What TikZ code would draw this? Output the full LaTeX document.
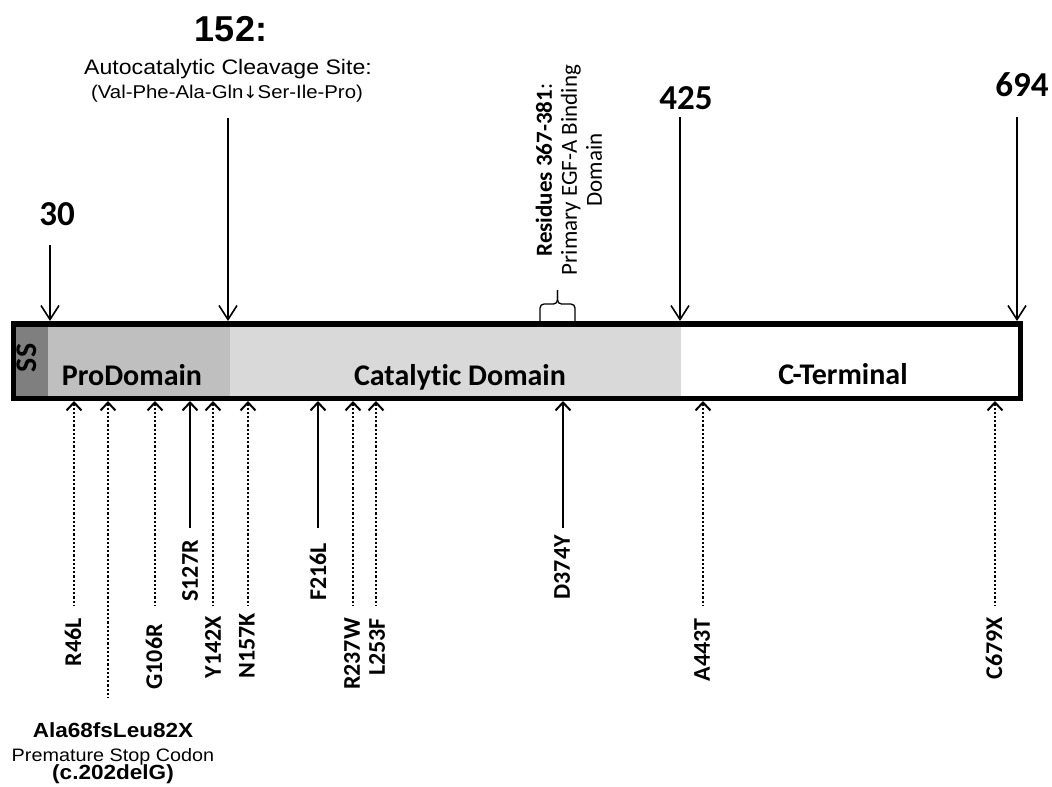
\documentclass[tikz,border=0pt]{standalone}
\usepackage{fontspec}
\setmainfont[Ligatures=NoCommon]{Carlito}
\newfontfamily\arialfont[FakeStretch=1.1]{Liberation Sans}
\newfontfamily\arialnum{Liberation Sans}
\newfontfamily\arrowfont{DejaVu Sans}
\usetikzlibrary{arrows.meta}

\definecolor{ssgray}{HTML}{7F7F7F}
\definecolor{progray}{HTML}{BFBFBF}
\definecolor{catgray}{HTML}{D9D9D9}

\tikzset{
  domainlabel/.style={font=\bfseries\fontsize{30bp}{36bp}\selectfont},
  poslabel/.style={font=\bfseries\fontsize{35bp}{40bp}\selectfont},
  mutlabel/.style={font=\bfseries\fontsize{24bp}{28bp}\selectfont, rotate=90, anchor=east, inner sep=0pt},
  sitearrow/.style={line width=1.6bp, -{Straight Barb[length=14bp,width=18bp,line width=1.6bp]}},
  mutdotted/.style={line width=2.2bp, dotted, {Straight Barb[length=8bp,width=15bp,line width=2bp]}-},
  mutsolid/.style={line width=2bp, {Straight Barb[length=8bp,width=15bp,line width=2bp]}-},
}

\begin{document}
\begin{tikzpicture}[x=1bp,y=-1bp]
\useasboundingbox (0,0) rectangle (1052,787);

% the protein bar
\fill[ssgray] (16,327) rectangle (48,396);
\fill[progray] (48,327) rectangle (230,396);
\fill[catgray] (230,327) rectangle (681,396);
\draw[line width=5.5bp] (13.5,324) rectangle (1020.5,398.5);

\node[domainlabel, rotate=90] (ss) at (27,358) {SS};
\node[domainlabel, anchor=base] (pro) at (132,385) {ProDomain};
\node[domainlabel, anchor=base] (cat) at (460,385) {Catalytic Domain};
\node[domainlabel, anchor=base] (cterm) at (843,384) {C-Terminal};

% sites above the bar
\coordinate (t30) at (50,321);
\coordinate (t152) at (228,321);
\coordinate (t425) at (680,321);
\coordinate (t694) at (1017,321);
\coordinate (s30) at (50,245);
\coordinate (s152) at (228,118);
\coordinate (s425) at (680,117);
\coordinate (s694) at (1017,117);

\node[poslabel] (n30) at (57,214) {30};
\node[font=\arialnum\bfseries\fontsize{36bp}{40bp}\selectfont] (n152) at (231,29) {152:};
\node[font=\arialfont\fontsize{21bp}{24bp}\selectfont, anchor=base] (cleave) at (228,75) {Autocatalytic Cleavage Site:};
\node[font=\arialfont\fontsize{18.5bp}{22bp}\selectfont, anchor=base] (seq) at (227,99) {(Val-Phe-Ala-Gln{\arrowfont\fontsize{17bp}{20bp}\selectfont ↓}Ser-Ile-Pro)};
\node[poslabel] (n425) at (686,98) {425};
\node[poslabel] (n694) at (1022,85) {694};

\draw[sitearrow] (s30) -- (t30);
\draw[sitearrow] (s152) -- (t152);
\draw[sitearrow] (s425) -- (t425);
\draw[sitearrow] (s694) -- (t694);

% EGF-A binding residues
\draw[line width=1.3bp, rounded corners=4bp] (540,321) -- (540,304) -- (557.5,304) -- (557.5,290);
\draw[line width=1.3bp, rounded corners=4bp] (575,321) -- (575,304) -- (557.5,304) -- (557.5,290);
\node[rotate=90, align=center, font=\fontsize{23bp}{25bp}\selectfont] (egf) at (569,170)
  {\textbf{Residues 367-381}:\\Primary EGF-A Binding\\Domain};

% mutations below the bar
\coordinate (b46) at (74,401);   \coordinate (e46) at (74,606);
\coordinate (b68) at (108,401);  \coordinate (e68) at (108,697);
\coordinate (b106) at (155,401); \coordinate (e106) at (155,606);
\coordinate (b127) at (190,401); \coordinate (e127) at (190,528);
\coordinate (b142) at (213,401); \coordinate (e142) at (213,606);
\coordinate (b157) at (248,401); \coordinate (e157) at (248,606);
\coordinate (b216) at (318,401); \coordinate (e216) at (318,528);
\coordinate (b237) at (353,401); \coordinate (e237) at (353,606);
\coordinate (b253) at (376,401); \coordinate (e253) at (376,606);
\coordinate (b374) at (563,401); \coordinate (e374) at (563,528);
\coordinate (b443) at (703,401); \coordinate (e443) at (703,606);
\coordinate (b679) at (995,401); \coordinate (e679) at (995,606);

\draw[mutdotted] (b46) -- (e46);
\draw[mutdotted] (b68) -- (e68);
\draw[mutdotted] (b106) -- (e106);
\draw[mutsolid] (b127) -- (e127);
\draw[mutdotted] (b142) -- (e142);
\draw[mutdotted] (b157) -- (e157);
\draw[mutsolid] (b216) -- (e216);
\draw[mutdotted] (b237) -- (e237);
\draw[mutdotted] (b253) -- (e253);
\draw[mutsolid] (b374) -- (e374);
\draw[mutdotted] (b443) -- (e443);
\draw[mutdotted] (b679) -- (e679);

\node[mutlabel] (r46l) at (73,618) {R46L};
\node[mutlabel] (g106r) at (154,624) {G106R};
\node[mutlabel] (s127r) at (190,540) {S127R};
\node[mutlabel] (y142x) at (213,616) {Y142X};
\node[mutlabel] (n157k) at (247,613) {N157K};
\node[mutlabel] (f216l) at (318,543) {F216L};
\node[mutlabel] (r237w) at (352,618) {R237W};
\node[mutlabel] (l253f) at (377,618) {L253F};
\node[mutlabel] (d374y) at (562,535) {D374Y};
\node[mutlabel] (a443t) at (702,618) {A443T};
\node[mutlabel] (c679x) at (994,617) {C679X};

% frameshift note
\node[font=\arialfont\bfseries\fontsize{20.5bp}{24bp}\selectfont, anchor=base] (fs) at (113,737) {Ala68fsLeu82X};
\node[font=\arialfont\fontsize{18bp}{22bp}\selectfont, anchor=base] (stop) at (113,761) {Premature Stop Codon};
\node[font=\arialfont\bfseries\fontsize{20.5bp}{24bp}\selectfont, anchor=base] (cdel) at (113,779) {(c.202delG)};
\end{tikzpicture}
\end{document}
